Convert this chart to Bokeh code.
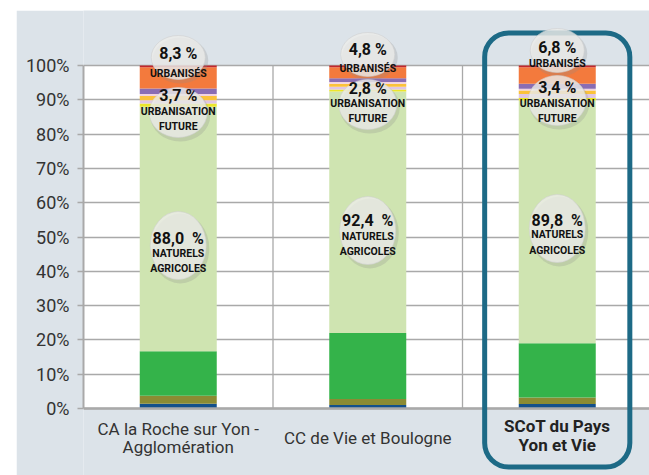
from bokeh.plotting import figure
from bokeh.models import FixedTicker, NumeralTickFormatter, BoxAnnotation, ColumnDataSource
from bokeh.core.properties import value
from bokeh.embed import file_html
from bokeh.resources import INLINE

# ---------------- data ----------------
categories = ["CA la Roche sur Yon -\nAgglomération", "CC de Vie et Boulogne", "SCoT du Pays\nYon et Vie"]
# naturels / agricoles segments (%), bottom to top
eau = [1.4, 1.0, 1.3]
olive = [2.3, 1.8, 1.9]
foret = [13.0, 19.2, 15.8]
agricole = [71.3, 70.4, 70.8]
# urbanisation future segments (%)
fut_jaune = [0.9, 0.6, 0.7]
fut_lilas = [1.0, 0.8, 1.2]
fut_or = [1.2, 0.9, 1.0]
fut_rose = [0.6, 0.5, 0.5]
# urbanisés segments (%)
urb_violet = [1.6, 1.1, 1.5]
urb_orange = [6.2, 3.2, 4.8]
urb_rouge = [0.5, 0.5, 0.5]

naturels_total = [88.0, 92.4, 89.8]
future_total = [3.7, 2.8, 3.4]
urbanises_total = [8.3, 4.8, 6.8]
y_ticks = [0, 10, 20, 30, 40, 50, 60, 70, 80, 90, 100]

# ---------------- styles / layout ----------------
BG = "#dce3e9"
GRID = "#a9a9a9"
FONT = "Roboto"
seg_names = ["eau", "olive", "foret", "agricole", "fut_jaune", "fut_lilas", "fut_or",
             "fut_rose", "urb_violet", "urb_orange", "urb_rouge"]
seg_values = [eau, olive, foret, agricole, fut_jaune, fut_lilas, fut_or,
              fut_rose, urb_violet, urb_orange, urb_rouge]
seg_colors = ["#13508b", "#8b8b33", "#34b34a", "#cfe4b1", "#ebe62c", "#e0c6e4", "#fbc23b",
              "#f1d2df", "#8a6db3", "#f37a3d", "#c1272d"]

# pixel geometry of the reference (frame: x 83..649, y 10..475 ; 0% at 408, 100% at 65)
PX_X = 189.5          # pixels per category
Y0, PX_Y = 408, 343   # pixel of 0 %, pixels per 100 %
def ypx(v):
    return (Y0 - v) / PX_Y

ncat = len(categories)
xc = [i + 0.5 for i in range(ncat)]
src = ColumnDataSource(dict(x=xc, **{n: [v / 100 for v in vals] for n, vals in zip(seg_names, seg_values)}))

p = figure(width=633, height=465, x_range=(0, 566 / PX_X), y_range=(ypx(475), ypx(10)),
           output_backend="svg", toolbar_location=None, x_axis_location=None,
           min_border_left=67, min_border_right=0, min_border_top=0, min_border_bottom=0,
           background_fill_color=BG, border_fill_color=BG, outline_line_color=None,
           margin=(10, 0, 0, 16))

# white plotting area 0..100 %
p.add_layout(BoxAnnotation(left=0, bottom=0, top=1, fill_color="white", fill_alpha=1,
                           line_color=None, level="image"))

# grids
p.xgrid.visible = False
p.ygrid.ticker = FixedTicker(ticks=[t / 100 for t in y_ticks])
p.ygrid.grid_line_color = GRID
p.ygrid.grid_line_width = 1.3
# category separators (0..100 % only)
seps = list(range(1, ncat))
p.segment(x0=seps, y0=[0] * len(seps), x1=seps, y1=[1] * len(seps),
          line_color=GRID, line_width=1.3)

# y axis
ax = p.yaxis[0]
ax.ticker = FixedTicker(ticks=[t / 100 for t in y_ticks])
ax.formatter = NumeralTickFormatter(format="0%")
ax.bounds = (0, 1)
ax.axis_line_color = GRID
ax.axis_line_width = 2
ax.major_tick_line_color = GRID
ax.major_tick_line_width = 1.5
ax.major_tick_out = 6
ax.major_tick_in = 0
ax.minor_tick_line_color = None
ax.major_label_standoff = 8
ax.major_label_text_font = FONT
ax.major_label_text_font_size = "18px"
ax.major_label_text_color = "#333333"

# stacked bars
p.vbar_stack(seg_names, x="x", width=77 / PX_X, source=src, color=seg_colors, line_width=0)

# baseline
p.hspan(y=[0], line_color=GRID, line_width=2.5)

# highlight box around the SCoT column
p.quad(left=[xc[2] - 0.383], right=[xc[2] + 0.383], top=[ypx(32.5)], bottom=[ypx(466.5)],
       fill_color=None, line_color="#1d6a86", line_width=5, border_radius=24)

# ellipse bubbles
def fmt(v, sep=" "):
    return f"{v:.1f}".replace(".", ",") + sep + "%"

e_rows = [([57, 54, 50], 54, 44), ([112, 104, 100], 58, 50), ([245, 230, 228], 56, 68)]
for ys, w, h in e_rows:
    p.ellipse(x=[c + 2 / PX_X for c in xc], y=[ypx(v + 3) for v in ys], width=(w + 2) / PX_X,
              height=(h + 2) / PX_Y, fill_color="#8c8c8c", fill_alpha=0.25, line_color=None)
    p.ellipse(x=xc, y=[ypx(v) for v in ys], width=w / PX_X, height=h / PX_Y,
              fill_color="#ececea", fill_alpha=0.8, line_color="#d0d0d0", line_alpha=0.6, line_width=1)

def txt(xs, ys_px, texts, size, color="#111111", style="bold"):
    p.text(x=xs, y=[ypx(v) for v in ys_px], text=texts, text_font=value(FONT),
           text_font_size=size, text_font_style=style, text_color=color,
           text_align="center", text_baseline="middle")

txt(xc, [53, 49, 47], [fmt(v) for v in urbanises_total], "16px")
txt(xc, [73, 68, 63], ["URBANISÉS"] * 3, "10.5px")
txt(xc, [95, 88, 87], [fmt(v) for v in future_total], "16px")
txt(xc, [111, 103, 103], ["URBANISATION"] * 3, "10.5px")
txt(xc, [126, 118, 118], ["FUTURE"] * 3, "10.5px")
txt(xc, [238, 220, 220], [fmt(v, "\u00a0 ") for v in naturels_total], "16px")
txt(xc, [253, 236, 234], ["NATURELS"] * 3, "10.5px")
txt(xc, [268, 251, 250], ["AGRICOLES"] * 3, "10.5px")

# category labels
lines1 = categories[0].split("\n")
lines3 = categories[2].split("\n")
txt([xc[0], xc[0]], [428, 446], lines1, "17px", color="#333333", style="normal")
txt([xc[1]], [437], [categories[1]], "17px", color="#333333", style="normal")
txt([xc[2], xc[2]], [425, 444], lines3, "17px", color="#222222", style="bold")

open("out.html", "w").write(file_html(p, INLINE))
